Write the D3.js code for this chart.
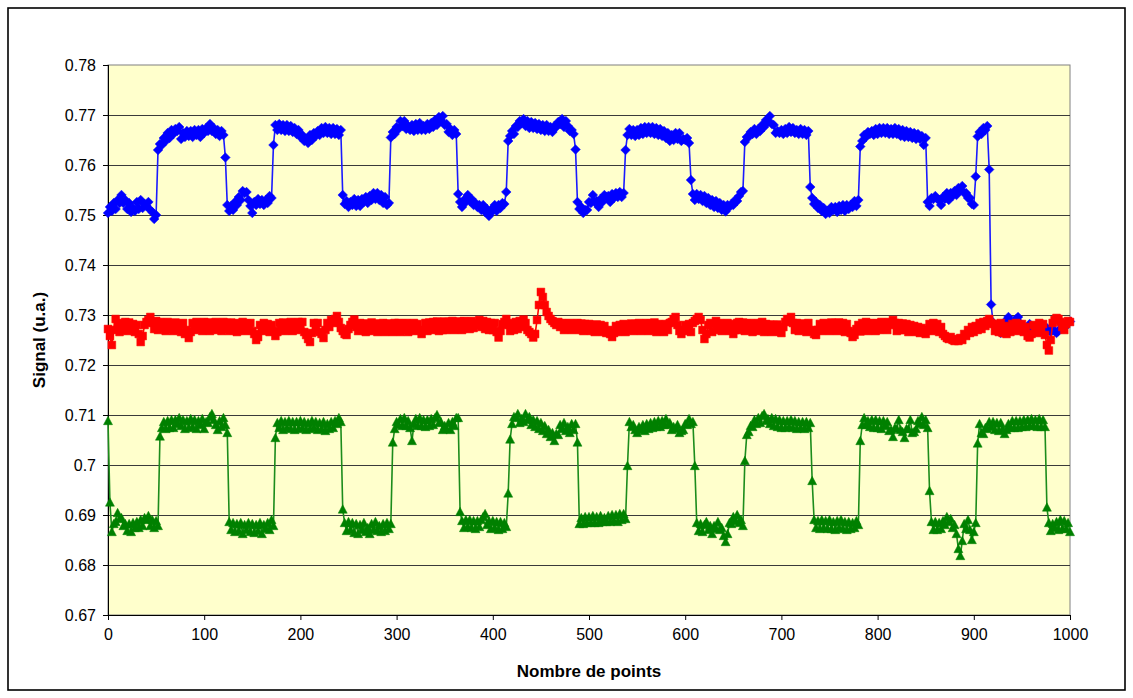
<!DOCTYPE html>
<html>
<head>
<meta charset="utf-8">
<script src="https://cdn.jsdelivr.net/npm/d3@7"></script>
<style>
  html, body { margin: 0; padding: 0; background: #fff; }
  svg text { font-family: "Liberation Sans", Arial, sans-serif; }
</style>
</head>
<body>
<svg id="chart" width="1133" height="698"></svg>
<script>
// ---------- DATA ----------
const xTicks = [0, 100, 200, 300, 400, 500, 600, 700, 800, 900, 1000];
const yTicks = [0.67, 0.68, 0.69, 0.70, 0.71, 0.72, 0.73, 0.74, 0.75, 0.76, 0.77, 0.78];
const yTickLabels = ["0.67", "0.68", "0.69", "0.7", "0.71", "0.72", "0.73", "0.74", "0.75", "0.76", "0.77", "0.78"];

// all series: one reading every 2 points, from point 0 to point 1000
const pointStep = 2;

const blueValues = [
.7504,.7516,.7508,.7524,.7512,.7530,.7524,.7540,.7524,.7530,.7512,.7524,.7506,.7514,.7508,.7526,.7512,.7530,.7514,.7522,.7518,.7526,.7510,.7506,.7492,.7500,
.7630,.7642,.7640,.7654,.7648,.7664,.7654,.7670,.7662,.7672,.7668,.7676,.7652,.7664,.7656,.7668,.7658,.7668,.7656,.7670,.7660,.7670,.7656,.7672,.7664,.7674,.7668,.7682,.7668,.7674,.7662,.7670,.7658,.7668,.7660,
.7615,
.7520,.7508,.7518,.7510,.7526,.7520,.7536,.7530,.7548,.7544,.7546,.7530,.7518,.7504,.7526,.7520,.7532,.7522,.7530,.7520,.7530,.7524,.7538,.7534,
.7640,
.7680,.7670,.7682,.7670,.7680,.7668,.7680,.7668,.7678,.7666,.7674,.7662,.7670,.7656,.7660,.7648,.7650,.7644,.7660,.7650,.7664,.7658,.7668,.7660,.7674,.7664,.7676,.7664,.7674,.7662,.7674,.7662,.7672,.7660,.7670,
.7540,.7522,.7528,.7516,.7526,.7520,.7532,.7518,.7530,.7518,.7532,.7526,.7536,.7524,.7538,.7530,.7544,.7532,.7544,.7530,.7540,.7524,.7536,.7520,.7524,
.7655,.7666,.7662,.7676,.7672,.7688,.7678,.7688,.7672,.7678,.7670,.7680,.7668,.7682,.7670,.7684,.7670,.7678,.7670,.7682,.7672,.7684,.7676,.7690,.7680,.7696,.7690,.7698,.7680,.7682,.7666,.7672,.7660,.7670,.7662,
.7542,
.7526,.7516,.7530,.7526,.7540,.7528,.7532,.7520,.7524,.7516,.7520,.7510,.7520,.7506,.7512,.7498,.7510,.7508,.7520,.7508,.7520,.7514,.7524,.7522,
.7546,.7648,
.7658,.7668,.7662,.7678,.7676,.7688,.7684,.7692,.7678,.7688,.7674,.7686,.7674,.7684,.7672,.7682,.7670,.7680,.7668,.7680,.7668,.7676,.7666,.7678,.7676,.7686,.7682,.7692,.7676,.7688,.7678,.7668,.7670,.7662,
.7631,
.7526,.7512,.7516,.7504,.7510,.7510,.7526,.7524,.7540,.7526,.7528,.7516,.7532,.7526,.7540,.7536,.7538,.7526,.7542,.7534,.7544,.7536,.7546,.7536,.7544,
.7630,
.7660,.7672,.7660,.7670,.7658,.7670,.7660,.7674,.7662,.7676,.7664,.7676,.7664,.7676,.7662,.7674,.7660,.7672,.7658,.7668,.7654,.7664,.7648,.7660,.7650,.7664,.7652,.7664,.7648,.7652,.7650,.7654,.7644,
.7570,
.7542,.7530,.7542,.7532,.7540,.7528,.7538,.7524,.7534,.7520,.7530,.7516,.7528,.7514,.7524,.7510,.7520,.7507,.7520,.7516,.7522,.7520,.7530,.7528,.7538,.7546,
.7548,
.7646,.7656,.7656,.7666,.7662,.7672,.7662,.7672,.7668,.7680,.7676,.7690,.7686,.7698,.7682,.7680,.7664,.7668,.7664,.7670,.7662,.7672,.7664,.7676,.7666,.7674,.7664,.7670,.7662,.7672,.7662,.7670,.7660,.7668,
.7556,
.7534,.7522,.7526,.7514,.7520,.7508,.7514,.7502,.7508,.7504,.7516,.7510,.7516,.7506,.7518,.7510,.7520,.7508,.7520,.7512,.7520,.7516,.7528,.7518,.7530,
.7637,
.7648,.7660,.7656,.7666,.7662,.7668,.7660,.7672,.7662,.7674,.7664,.7674,.7664,.7674,.7662,.7672,.7662,.7674,.7662,.7672,.7658,.7670,.7656,.7668,.7656,.7666,.7654,.7664,.7652,.7662,.7652,.7658,.7640,.7654,
.7526,.7518,.7534,.7532,.7538,.7532,.7530,.7520,.7536,.7532,.7544,.7530,.7544,.7538,.7548,.7540,.7554,.7550,.7558,.7544,.7544,.7534,.7534,.7522,.7520,
.7577,
.7657,.7666,.7662,.7674,.7670,.7678,
.7591,.7321,
.7285,.7280,.7274,.7270,.7264,.7268,.7276,.7290,.7296,.7286,.7282,.7286,.7292,.7296,.7284,.7278,.7274,.7270,.7276,.7282,.7276,.7272,.7275,.7270,.7273,.7268,.7272,.7266,.7274,.7270,.7266,.7272,.7268,.7264,.7268,.7272,.7276,.7274,.7280,.7284,.7287
];

const redValues = [
.7272,.7258,.7240,.7270,.7292,.7278,.7266,.7284,.7270,.7286,.7268,.7285,.7272,.7282,.7266,.7280,.7262,.7246,.7258,.7280,.7286,.7290,.7296,.7284,.7272,
.7288,.7270,.7286,.7274,.7284,.7268,.7286,.7272,.7283,.7268,.7285,.7270,.7282,.7266,.7284,.7262,.7270,.7254,.7266,.7284,.7270,.7286,.7272,.7284,.7268,
.7286,.7270,.7285,.7268,.7284,.7272,.7286,.7270,.7283,.7268,.7286,.7272,.7284,.7268,.7285,.7270,.7282,.7266,.7284,.7270,.7286,.7268,.7283,.7270,.7284,
.7268,.7262,.7250,.7256,.7280,.7270,.7284,.7268,.7282,.7266,.7280,.7268,.7258,.7266,.7284,.7270,.7285,.7268,.7283,.7270,.7286,.7268,.7284,.7270,.7286,
.7272,.7286,.7266,.7260,.7252,.7246,.7264,.7284,.7270,.7284,.7266,.7262,.7254,.7270,.7284,.7276,.7290,.7284,.7292,.7298,.7286,.7274,.7268,.7262,.7260,
.7272,.7280,.7286,.7291,.7276,.7268,.7284,.7270,.7283,.7266,.7282,.7268,.7285,.7270,.7283,.7266,.7282,.7268,.7284,.7266,.7283,.7268,.7282,.7266,.7284,
.7268,.7284,.7266,.7283,.7270,.7284,.7266,.7282,.7268,.7284,.7270,.7282,.7268,.7262,.7270,.7284,.7268,.7285,.7270,.7286,.7272,.7287,.7268,.7285,.7270,
.7287,.7270,.7286,.7272,.7288,.7270,.7286,.7272,.7287,.7270,.7288,.7274,.7286,.7272,.7288,.7274,.7284,.7280,.7290,.7276,.7288,.7272,.7286,.7270,.7284,
.7270,.7284,.7266,.7255,.7268,.7282,.7286,.7292,.7280,.7268,.7284,.7270,.7286,.7272,.7288,.7276,.7291,.7284,.7270,.7266,.7262,.7255,.7262,.7290,.7320,
.7346,.7336,.7320,.7306,.7298,.7292,.7288,.7284,.7280,.7286,.7276,.7284,.7270,.7283,.7272,.7284,.7270,.7282,.7272,.7284,.7270,.7283,.7268,.7282,.7270,
.7282,.7268,.7280,.7266,.7281,.7268,.7280,.7266,.7278,.7264,.7270,.7262,.7256,.7264,.7278,.7266,.7280,.7268,.7282,.7266,.7280,.7270,.7283,.7268,.7282,
.7270,.7284,.7268,.7282,.7270,.7284,.7268,.7283,.7270,.7285,.7266,.7282,.7268,.7280,.7266,.7282,.7270,.7284,.7286,.7292,.7296,.7280,.7268,.7262,.7270,
.7280,.7268,.7282,.7266,.7284,.7288,.7292,.7296,.7290,.7270,.7252,.7262,.7280,.7284,.7266,.7282,.7288,.7270,.7284,.7268,.7282,.7270,.7284,.7268,.7282,
.7262,.7270,.7284,.7286,.7270,.7285,.7268,.7283,.7270,.7284,.7266,.7282,.7268,.7284,.7270,.7286,.7266,.7282,.7268,.7281,.7266,.7280,.7268,.7281,.7266,
.7264,.7276,.7286,.7292,.7288,.7296,.7284,.7270,.7284,.7268,.7283,.7270,.7282,.7266,.7284,.7268,.7270,.7262,.7260,.7270,.7282,.7268,.7284,.7270,.7282,
.7268,.7285,.7270,.7284,.7268,.7285,.7270,.7284,.7266,.7282,.7268,.7264,.7256,.7260,.7272,.7280,.7267,.7284,.7270,.7286,.7268,.7284,.7270,.7283,.7268,
.7284,.7270,.7286,.7272,.7284,.7270,.7286,.7280,.7290,.7284,.7268,.7284,.7270,.7283,.7270,.7282,.7266,.7280,.7268,.7278,.7266,.7276,.7264,.7274,.7266,
.7262,.7270,.7282,.7268,.7284,.7270,.7282,.7266,.7276,.7262,.7258,.7254,.7252,.7256,.7250,.7248,.7252,.7248,.7254,.7250,.7262,.7258,.7270,.7264,.7276,
.7266,.7278,.7270,.7284,.7272,.7286,.7278,.7288,.7292,.7284,.7282,.7268,.7280,.7266,.7284,.7264,.7278,.7262,.7276,.7266,.7282,.7270,.7284,.7268,.7280,
.7282,.7266,.7276,.7258,.7255,.7262,.7280,.7270,.7264,.7284,.7272,.7282,.7260,.7240,.7229,.7250,.7284,.7290,.7294,.7292,.7286,.7276,.7270,.7282,.7288,
.7286
];

const greenValues = [
.7088,.6925,
.6866,.6882,.6886,.6904,.6892,.6894,.6878,.6882,.6868,.6882,.6866,.6884,.6874,.6886,.6874,.6890,.6878,.6894,.6890,.6898,.6878,.6890,.6874,.6888,.6878,
.7057,
.7074,.7086,.7072,.7088,.7074,.7090,.7074,.7090,.7082,.7094,.7078,.7090,.7072,.7088,.7074,.7092,.7076,.7090,.7072,.7088,.7080,.7092,.7072,.7086,.7084,.7096,.7102,.7090,.7080,.7070,.7088,.7076,.7094,.7080,
.7064,
.6886,.6870,.6884,.6866,.6882,.6868,.6884,.6862,.6880,.6870,.6884,.6866,.6882,.6864,.6880,.6868,.6884,.6862,.6880,.6872,.6884,.6870,.6890,.6878,
.7054,
.7084,.7074,.7088,.7070,.7086,.7074,.7088,.7072,.7086,.7070,.7086,.7072,.7088,.7074,.7086,.7070,.7084,.7072,.7088,.7074,.7086,.7070,.7084,.7072,.7086,.7068,.7082,.7072,.7086,.7074,.7088,.7082,.7094,.7086,
.6911,
.6884,.6868,.6886,.6870,.6884,.6864,.6882,.6862,.6880,.6870,.6884,.6866,.6874,.6862,.6882,.6870,.6886,.6868,.6878,.6866,.6882,.6868,.6884,.6872,.6882,
.7045,
.7072,.7086,.7080,.7092,.7078,.7094,.7078,.7088,.7074,.7048,.7082,.7092,.7078,.7094,.7078,.7090,.7076,.7090,.7078,.7092,.7080,.7094,.7100,.7084,.7086,.7070,.7078,.7072,.7084,.7070,.7086,.7078,.7094,.7094,
.6906,
.6888,.6874,.6890,.6876,.6890,.6874,.6888,.6872,.6888,.6876,.6890,.6896,.6902,.6880,.6888,.6872,.6888,.6874,.6886,.6870,.6886,.6872,.6884,.6876,
.6943,.7051,
.7082,.7096,.7094,.7102,.7084,.7092,.7086,.7102,.7090,.7096,.7080,.7090,.7076,.7088,.7072,.7084,.7068,.7078,.7062,.7070,.7056,.7064,.7048,.7062,.7060,.7080,.7072,.7084,.7068,.7076,.7064,.7082,.7070,.7082,
.7045,
.6882,.6894,.6882,.6896,.6884,.6896,.6884,.6898,.6884,.6896,.6884,.6898,.6886,.6894,.6886,.6898,.6886,.6900,.6888,.6900,.6886,.6902,.6890,.6902,.6892,
.6998,
.7086,.7076,.7080,.7070,.7064,.7076,.7070,.7080,.7068,.7082,.7072,.7084,.7074,.7086,.7076,.7088,.7076,.7088,.7080,.7092,.7080,.7084,.7070,.7076,.7072,.7080,.7064,.7068,.7070,.7082,.7080,.7092,.7082,.7086,
.6998,
.6884,.6868,.6882,.6866,.6880,.6886,.6870,.6878,.6862,.6878,.6872,.6886,.6870,.6874,.6858,.6846,.6862,.6884,.6882,.6896,.6888,.6900,.6884,.6890,.6878,
.7008,.7060,
.7066,.7078,.7076,.7090,.7082,.7094,.7084,.7098,.7102,.7088,.7092,.7082,.7094,.7078,.7092,.7076,.7090,.7074,.7088,.7074,.7088,.7076,.7090,.7074,.7088,.7072,.7086,.7074,.7086,.7072,.7086,.7074,.7084,
.6968,
.6890,.6874,.6888,.6872,.6890,.6874,.6888,.6872,.6890,.6872,.6886,.6870,.6888,.6874,.6890,.6872,.6886,.6870,.6886,.6872,.6884,.6874,.6888,.6880,
.7048,
.7080,.7094,.7080,.7088,.7076,.7090,.7074,.7090,.7074,.7088,.7072,.7088,.7078,.7086,.7068,.7070,.7056,.7074,.7072,.7090,.7070,.7066,.7054,.7072,.7072,.7090,.7064,.7066,.7072,.7088,.7082,.7096,.7080,.7090,.7074,
.6948,
.6886,.6870,.6886,.6870,.6884,.6872,.6888,.6880,.6896,.6886,.6892,.6874,.6880,.6862,.6832,.6818,.6848,.6882,.6872,.6890,.6870,.6850,.6866,.6884,
.7043,
.7082,.7064,.7062,.7074,.7072,.7086,.7076,.7086,.7070,.7084,.7068,.7084,.7072,.7062,.7070,.7082,.7074,.7088,.7074,.7088,.7074,.7088,.7076,.7090,.7076,.7090,.7078,.7092,.7078,.7090,.7076,.7092,.7076,.7090,.7076,
.6915,
.6884,.6868,.6882,.6874,.6886,.6870,.6890,.6872,.6888,.6872,.6884,.6866
];

const toPoints = vals => vals.map((v, i) => [i * pointStep, v]);
const blue = toPoints(blueValues);
const red = toPoints(redValues);
const green = toPoints(greenValues);

// ---------- CHART ----------
const svg = d3.select("#chart");
const W = 1133, H = 698;
const plot = { left: 108, top: 65, right: 1070, bottom: 615 };

svg.append("rect").attr("x", 0).attr("y", 0).attr("width", W).attr("height", H).attr("fill", "#fff");
svg.append("rect").attr("x", 8).attr("y", 8).attr("width", 1117).attr("height", 682)
  .attr("fill", "none").attr("stroke", "#000").attr("stroke-width", 1.6);

const x = d3.scaleLinear().domain([0, 1000]).range([plot.left, plot.right]);
const y = d3.scaleLinear().domain([0.67, 0.78]).range([plot.bottom, plot.top]);

svg.append("rect").attr("x", plot.left).attr("y", plot.top)
  .attr("width", plot.right - plot.left).attr("height", plot.bottom - plot.top)
  .attr("fill", "#FFFFCC").attr("stroke", "#808080").attr("stroke-width", 1);

svg.append("g").selectAll("line").data(yTicks.filter(t => t > 0.675 && t < 0.775)).join("line")
  .attr("x1", plot.left).attr("x2", plot.right)
  .attr("y1", d => Math.round(y(d)) + 0.5).attr("y2", d => Math.round(y(d)) + 0.5)
  .attr("stroke", "#3a3a3a").attr("stroke-width", 1);

const yAxis = d3.axisLeft(y).tickValues(yTicks).tickSize(5).tickPadding(7)
  .tickFormat((d, i) => yTickLabels[i]);
const gy = svg.append("g").attr("transform", `translate(${plot.left},0)`).call(yAxis);
gy.select(".domain").attr("stroke", "#000").attr("d", `M0.5,${plot.top}V${plot.bottom}`);
gy.selectAll(".tick line").attr("stroke", "#000");
gy.selectAll(".tick text").attr("font-size", 16).attr("fill", "#000")
  .attr("font-family", '"Liberation Sans", Arial, sans-serif');

const xAxis = d3.axisBottom(x).tickValues(xTicks).tickSize(5).tickPadding(9).tickFormat(d3.format("d"));
const gx = svg.append("g").attr("transform", `translate(0,${plot.bottom})`).call(xAxis);
gx.select(".domain").attr("stroke", "#000").attr("d", `M${plot.left},0.5H${plot.right}`);
gx.selectAll(".tick line").attr("stroke", "#000");
gx.selectAll(".tick text").attr("font-size", 16).attr("fill", "#000")
  .attr("font-family", '"Liberation Sans", Arial, sans-serif');

svg.append("text").attr("x", (plot.left + plot.right) / 2).attr("y", 677)
  .attr("text-anchor", "middle").attr("font-size", 17).attr("font-weight", "bold")
  .text("Nombre de points");
svg.append("text").attr("transform", `translate(45,${(plot.top + plot.bottom) / 2}) rotate(-90)`)
  .attr("text-anchor", "middle").attr("font-size", 17).attr("font-weight", "bold")
  .text("Signal (u.a.)");

const line = d3.line().x(d => x(d[0])).y(d => y(d[1]));
const markers = {
  diamond: "M0,-4.8L4.8,0L0,4.8L-4.8,0Z",
  square: "M-3.9,-3.9H3.9V3.9H-3.9Z",
  triangle: "M0,-4.7L4.5,3.7H-4.5Z"
};
const series = [
  { data: blue, color: "#0000FF", lineColor: "#1a1aff", marker: markers.diamond },
  { data: red, color: "#FF0000", lineColor: "#FF0000", marker: markers.square },
  { data: green, color: "#008000", lineColor: "#1c8c1c", marker: markers.triangle }
];

const plotG = svg.append("g");
series.forEach(s => {
  const g = plotG.append("g");
  g.append("path").datum(s.data).attr("d", line)
    .attr("fill", "none").attr("stroke", s.lineColor).attr("stroke-width", 1.6);
  g.selectAll("path.m").data(s.data).join("path").attr("class", "m")
    .attr("d", s.marker)
    .attr("transform", d => `translate(${x(d[0])},${y(d[1])})`)
    .attr("fill", s.color).attr("stroke", s.color).attr("stroke-width", 0.5);
});
</script>
</body>
</html>
